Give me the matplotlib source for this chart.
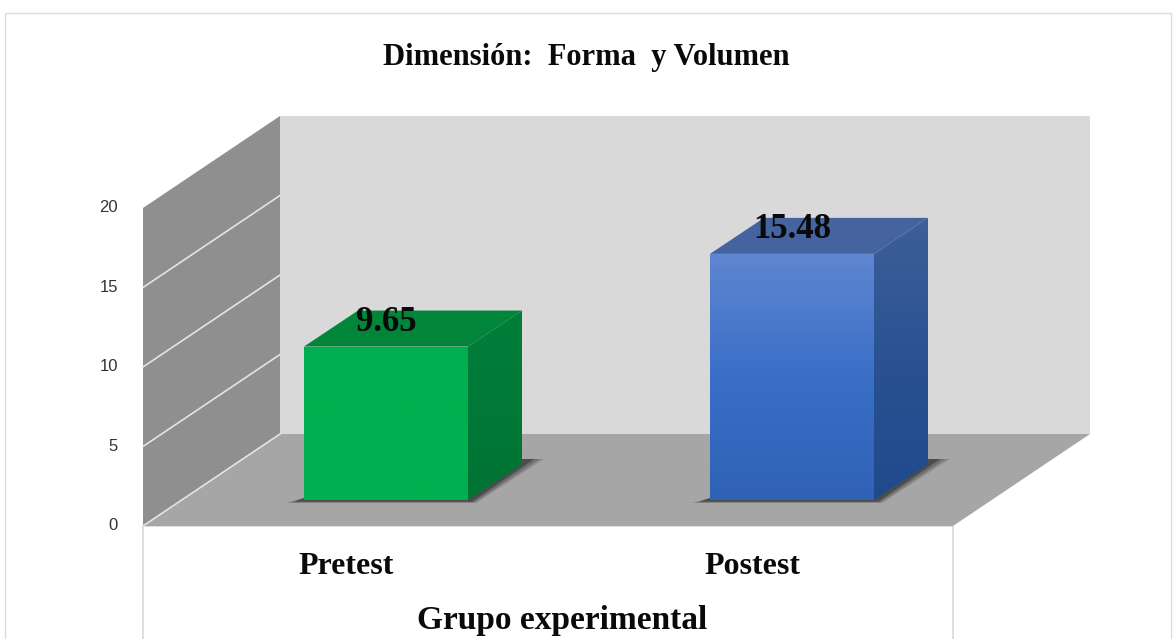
import numpy as np
import matplotlib
matplotlib.use("Agg")
import matplotlib.pyplot as plt
from matplotlib.colors import LinearSegmentedColormap
from matplotlib.patches import Polygon

title = "Dimensión:  Forma  y Volumen"
categories = ["Pretest", "Postest"]
values = [9.65, 15.48]
y_ticks = [0, 5, 10, 15, 20]
x_title = "Grupo experimental"

# one axes over the whole figure: x in categories, y in chart values
PX_X = 406.0   # pixels per category
PX_Y = 15.9    # pixels per value unit
W, H = 1176, 639
X0_PX, Y0_PX = 386, 526

fig = plt.figure(figsize=(W / 100, H / 100), dpi=100)
ax = fig.add_axes([0, 0, 1, 1])
xlim = (-X0_PX / PX_X, (W - X0_PX) / PX_X)
ylim = (-(H - Y0_PX) / PX_Y, Y0_PX / PX_Y)
ax.axis("off")

DEPTH_X = 137 / PX_X
DEPTH_Y = 92 / PX_Y
LEFT = (143 - X0_PX) / PX_X
RIGHT = (953 - X0_PX) / PX_X
BAR_W = 164 / PX_X
BAR_D0 = 26 / 92     # bar front, as a share of floor depth
BAR_D = 36 / 92      # bar depth
BAR_DX = 54 / PX_X


def px(x, y):
    return (x - X0_PX) / PX_X, (Y0_PX - y) / PX_Y


def poly(pts, color, z, alpha=1.0):
    p = Polygon(pts, closed=True, fc=color, ec="none", alpha=alpha, zorder=z)
    ax.add_patch(p)
    return p


def gradient(pts, colors, z):
    p = poly(pts, "none", z)
    cmap = LinearSegmentedColormap.from_list("g", colors)
    grad = np.linspace(0, 1, 256).reshape(-1, 1)
    xs, ys = zip(*pts)
    im = ax.imshow(grad, cmap=cmap, aspect="auto", origin="upper", zorder=z,
                   extent=(min(xs), max(xs), min(ys), max(ys)))
    im.set_clip_path(p)


def serif(x, y, s, size):
    ax.text(x, y, s, ha="center", va="center", fontsize=size, family="Liberation Serif",
            weight="bold", color="#0a0a0a", zorder=6)


# chart area border
ax.plot(*zip(px(5, 638), px(5, 13), px(1171, 13), px(1171, 638)), color="#dddddd", lw=1, zorder=1)

# walls and floor
d = (DEPTH_X, DEPTH_Y)
top = y_ticks[-1]
poly([(LEFT + d[0], d[1]), (RIGHT + d[0], d[1]), (RIGHT + d[0], top + d[1]), (LEFT + d[0], top + d[1])], "#d9d9d9", 2)
poly([(LEFT, 0), (LEFT + d[0], d[1]), (LEFT + d[0], top + d[1]), (LEFT, top)], "#8f8f8f", 2)
poly([(LEFT, 0), (RIGHT, 0), (RIGHT + d[0], d[1]), (LEFT + d[0], d[1])], "#a6a6a6", 2)

for t in y_ticks[:-1]:
    ax.plot([LEFT, LEFT + d[0]], [t, t + d[1]], color="#e4e4e4", lw=1.2, zorder=3)
for t in y_ticks:
    ax.text(LEFT - 25 / PX_X, t, str(t), ha="right", va="center", fontsize=12,
            family="Liberation Sans", color="#333333", zorder=6)

# axis lines under the floor
ax.plot([LEFT, LEFT], [ylim[0], 0], color="#d8d8d8", lw=1.2, zorder=1)
ax.plot([RIGHT, RIGHT], [ylim[0], 0], color="#d8d8d8", lw=1.2, zorder=1)
ax.plot([LEFT, RIGHT], [0, 0], color="#d8d8d8", lw=1.2, zorder=1)

front_cols = [["#00B050", "#00B050"], ["#5F86D0", "#3A6FC8", "#2F62B5"]]
side_cols = [["#007F3A", "#007433"], ["#3E5F98", "#2A5292", "#1F4A8C"]]
top_cols = ["#00853B", "#45639F"]

base = BAR_D0 * DEPTH_Y
back = BAR_D * DEPTH_Y
for i, v in enumerate(values):
    x0, x1 = i - BAR_W / 2, i + BAR_W / 2
    # soft floor shadow
    for grow, a in [(1.0, 0.2), (0.8, 0.3), (0.55, 0.5)]:
        poly([(x0 - grow * 18 / PX_X, base - grow * 3 / PX_Y), (x1 + grow * 8 / PX_X, base - grow * 3 / PX_Y),
              (x1 + BAR_DX + grow * 22 / PX_X, base + back + 5 / PX_Y),
              (x1 + BAR_DX, base + back + 5 / PX_Y), (x1, base + 2 / PX_Y), (x0, base + 2 / PX_Y)],
             "#2a2a2a", 3, alpha=a)
    gradient([(x0, base), (x1, base), (x1, base + v), (x0, base + v)], front_cols[i], 4)
    gradient([(x1, base), (x1 + BAR_DX, base + back), (x1 + BAR_DX, base + back + v), (x1, base + v)],
             side_cols[i], 4)
    poly([(x0, base + v), (x1, base + v), (x1 + BAR_DX, base + back + v), (x0 + BAR_DX, base + back + v)],
         top_cols[i], 4)
    serif(i, base + v + 1.52, f"{v:.2f}", 25)
    serif((346 - X0_PX) / PX_X + i, (Y0_PX - 567) / PX_Y, categories[i], 23)

serif((562 - X0_PX) / PX_X, (Y0_PX - 621) / PX_Y, x_title, 24)
serif((586 - X0_PX) / PX_X, (Y0_PX - 58) / PX_Y, title, 22)

ax.set_xlim(xlim)
ax.set_ylim(ylim)
fig.savefig("out.png", dpi=100, facecolor="white")
